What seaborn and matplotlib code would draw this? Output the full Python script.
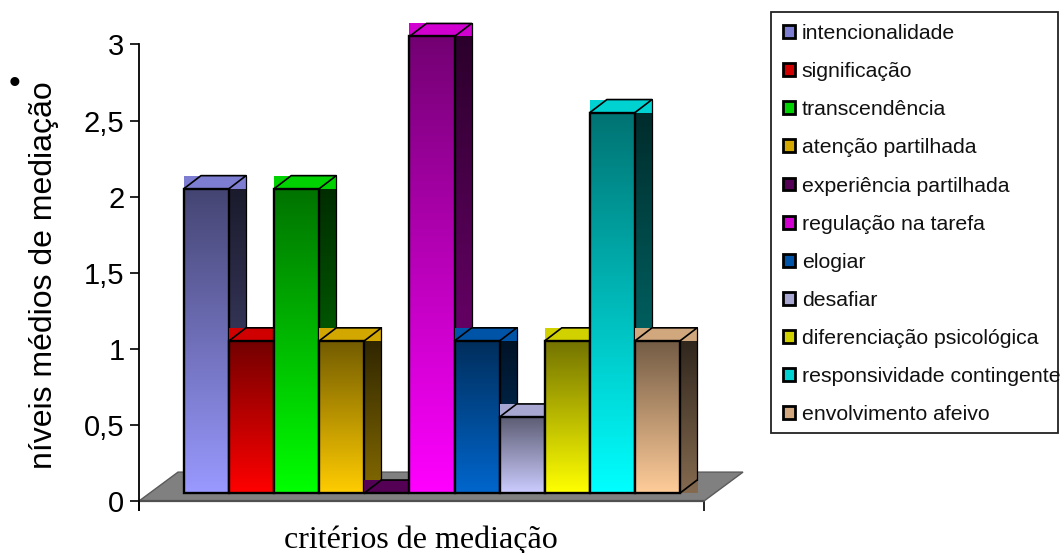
import numpy as np
import pandas as pd
import matplotlib
matplotlib.use("Agg")
import matplotlib.pyplot as plt
import seaborn as sns
from matplotlib.patches import Rectangle, Polygon, Patch
from matplotlib.colors import to_rgb

# ---------------- data ----------------
categorias = [
    "intencionalidade",
    "significação",
    "transcendência",
    "atenção partilhada",
    "experiência partilhada",
    "regulação na tarefa",
    "elogiar",
    "desafiar",
    "diferenciação psicológica",
    "responsividade contingente",
    "envolvimento afeivo",
]
niveis = [2, 1, 2, 1, 0, 3, 1, 0.5, 1, 2.5, 1]
y_ticks = [0, 0.5, 1, 1.5, 2, 2.5, 3]
y_tick_labels = ["0", "0,5", "1", "1,5", "2", "2,5", "3"]
x_label = "critérios de mediação"
y_label = "níveis médios de mediação"

# ---------------- style ----------------
palette = ["#9999FF", "#FF0000", "#00FF00", "#FFCC00", "#660066", "#FF00FF",
           "#0066CC", "#CCCCFF", "#FFFF00", "#00FFFF", "#FFCC99"]

sns.set_theme(style="white")
plt.rcParams['font.family'] = ['Liberation Sans', 'DejaVu Sans']

W_PX, H_PX = 1060, 553
fig = plt.figure(figsize=(W_PX / 100, H_PX / 100), dpi=100)

# axes geometry (pixels)
ax_left, ax_right = 139, 704
ax_bottom_px, ax_top_px = 510, 14
ax = fig.add_axes([ax_left / W_PX, (H_PX - ax_bottom_px) / H_PX,
                   (ax_right - ax_left) / W_PX, (ax_bottom_px - ax_top_px) / H_PX])

XLIM = (-1.497, 11.03)
YLIM = (-0.059, 3.2)
BASE = 0.0525          # bars stand slightly behind the floor front edge
DX, DY = 0.377, 0.0854  # bar depth
FDX, FDY = 0.865, 0.19  # floor depth

df = pd.DataFrame({"criterio": categorias, "nivel": niveis})
sns.barplot(data=df, x="criterio", y="nivel", hue="criterio", palette=palette,
            width=1.0, legend=False, ax=ax, errorbar=None, saturation=1,
            bottom=BASE, edgecolor="black", linewidth=1.7)

bars = [p for p in ax.patches if isinstance(p, Rectangle)]

# floor
floor = Polygon([[XLIM[0], 0], [XLIM[1], 0], [XLIM[1] + FDX, FDY], [XLIM[0] + FDX, FDY]],
                closed=True, facecolor="#808080", edgecolor="#5a5a5a", lw=1.0,
                zorder=1, clip_on=False)
ax.add_patch(floor)
ax.plot([XLIM[0], XLIM[1]], [0, 0], color="#505050", lw=1.6, zorder=1.05,
        clip_on=False, solid_capstyle="butt")

n = 96
t = np.linspace(0, 1, n)[:, None]  # 0 = top, 1 = bottom
for i, (bar, col) in enumerate(zip(bars, palette)):
    rgb = np.array(to_rgb(col))
    x0, w = bar.get_x(), bar.get_width()
    y0, h = bar.get_y(), bar.get_height()
    x1, y1 = x0 + w, y0 + h
    z = 2 + i * 0.1
    # side face
    side = np.clip((0.16 + 0.36 * t) * rgb, 0, 1)
    ax.imshow(side[:, None, :], extent=[x1, x1 + DX, y0, y1 + DY], aspect="auto",
              zorder=z, clip_on=False, interpolation="bilinear")
    # top face
    ax.add_patch(Rectangle((x0, y1), w + DX, DY, facecolor=np.clip(0.82 * rgb, 0, 1),
                           edgecolor="none", zorder=z + 0.01, clip_on=False))
    ax.plot([x0, x0 + DX, x1 + DX, x1], [y1, y1 + DY, y1 + DY, y1], color="black",
            lw=1.2, zorder=z + 0.02, clip_on=False)
    ax.plot([x1 + DX, x1 + DX], [y1 + DY, y0 + DY], color="black", lw=0.9,
            zorder=z + 0.02, clip_on=False)
    ax.plot([x1, x1 + DX], [y0, y0 + DY], color="black", lw=1.2,
            zorder=z + 0.02, clip_on=False)
    # front face gradient
    if h > 0:
        front = np.clip((0.45 + 0.55 * t) * rgb, 0, 1)
        ax.imshow(front[:, None, :], extent=[x0, x1, y0, y1], aspect="auto",
                  zorder=z + 0.03, clip_on=False, interpolation="bilinear")
    bar.set_facecolor("none")
    bar.set_zorder(z + 0.04)
    bar.set_clip_on(False)

ax.set_xlim(*XLIM)
ax.set_ylim(*YLIM)

# axes styling
for s in ["top", "right"]:
    ax.spines[s].set_visible(False)
ax.spines["bottom"].set_position(("data", 0))
ax.spines["bottom"].set_visible(False)
ax.spines["left"].set_color("black")
ax.spines["left"].set_linewidth(1.3)
ax.spines["left"].set_bounds(YLIM[0], 3)

ax.set_yticks(y_ticks)
ax.set_yticklabels(y_tick_labels)
ax.set_xticks([XLIM[0], XLIM[1]])
ax.set_xticklabels(["", ""])
ax.tick_params(axis="y", left=True, direction="out", length=6.5, width=1.2,
               color="black", labelsize=21, pad=4, labelcolor="black")
ax.tick_params(axis="x", bottom=True, direction="out", length=7, width=1.2,
               color="black")
ax.set_xlabel("")
ax.set_ylabel(y_label, fontsize=23, color="black")
ax.yaxis.set_label_coords((59 - ax_left) / (ax_right - ax_left),
                          (ax_bottom_px - 275) / (ax_bottom_px - ax_top_px))
ax.grid(False)

fig.text(421 / W_PX, (H_PX - 548) / H_PX, x_label, ha="center", va="baseline",
         fontsize=23, family=["Liberation Serif", "DejaVu Serif"], color="black")
fig.text(15 / W_PX, (H_PX - 84) / H_PX, "•", ha="center", va="center",
         fontsize=24, color="black")

# legend
handles = [Patch(facecolor=np.clip(0.82 * np.array(to_rgb(c)), 0, 1),
                 edgecolor="black", linewidth=2) for c in palette]
fig.legend(handles, categorias, loc="upper left",
           bbox_to_anchor=(783 / W_PX, 1 - 24 / H_PX), frameon=False, fontsize=15.3,
           handlelength=0.56, handleheight=0.56, handletextpad=0.32,
           labelspacing=0.9, borderpad=0, borderaxespad=0, labelcolor="#111111")
fig.patches.append(Rectangle((771 / W_PX, 1 - 433 / H_PX), (1058 - 771) / W_PX,
                             (433 - 12) / H_PX, transform=fig.transFigure,
                             fill=False, edgecolor="#222222", lw=1.3))

fig.savefig("out.png", dpi=100)
